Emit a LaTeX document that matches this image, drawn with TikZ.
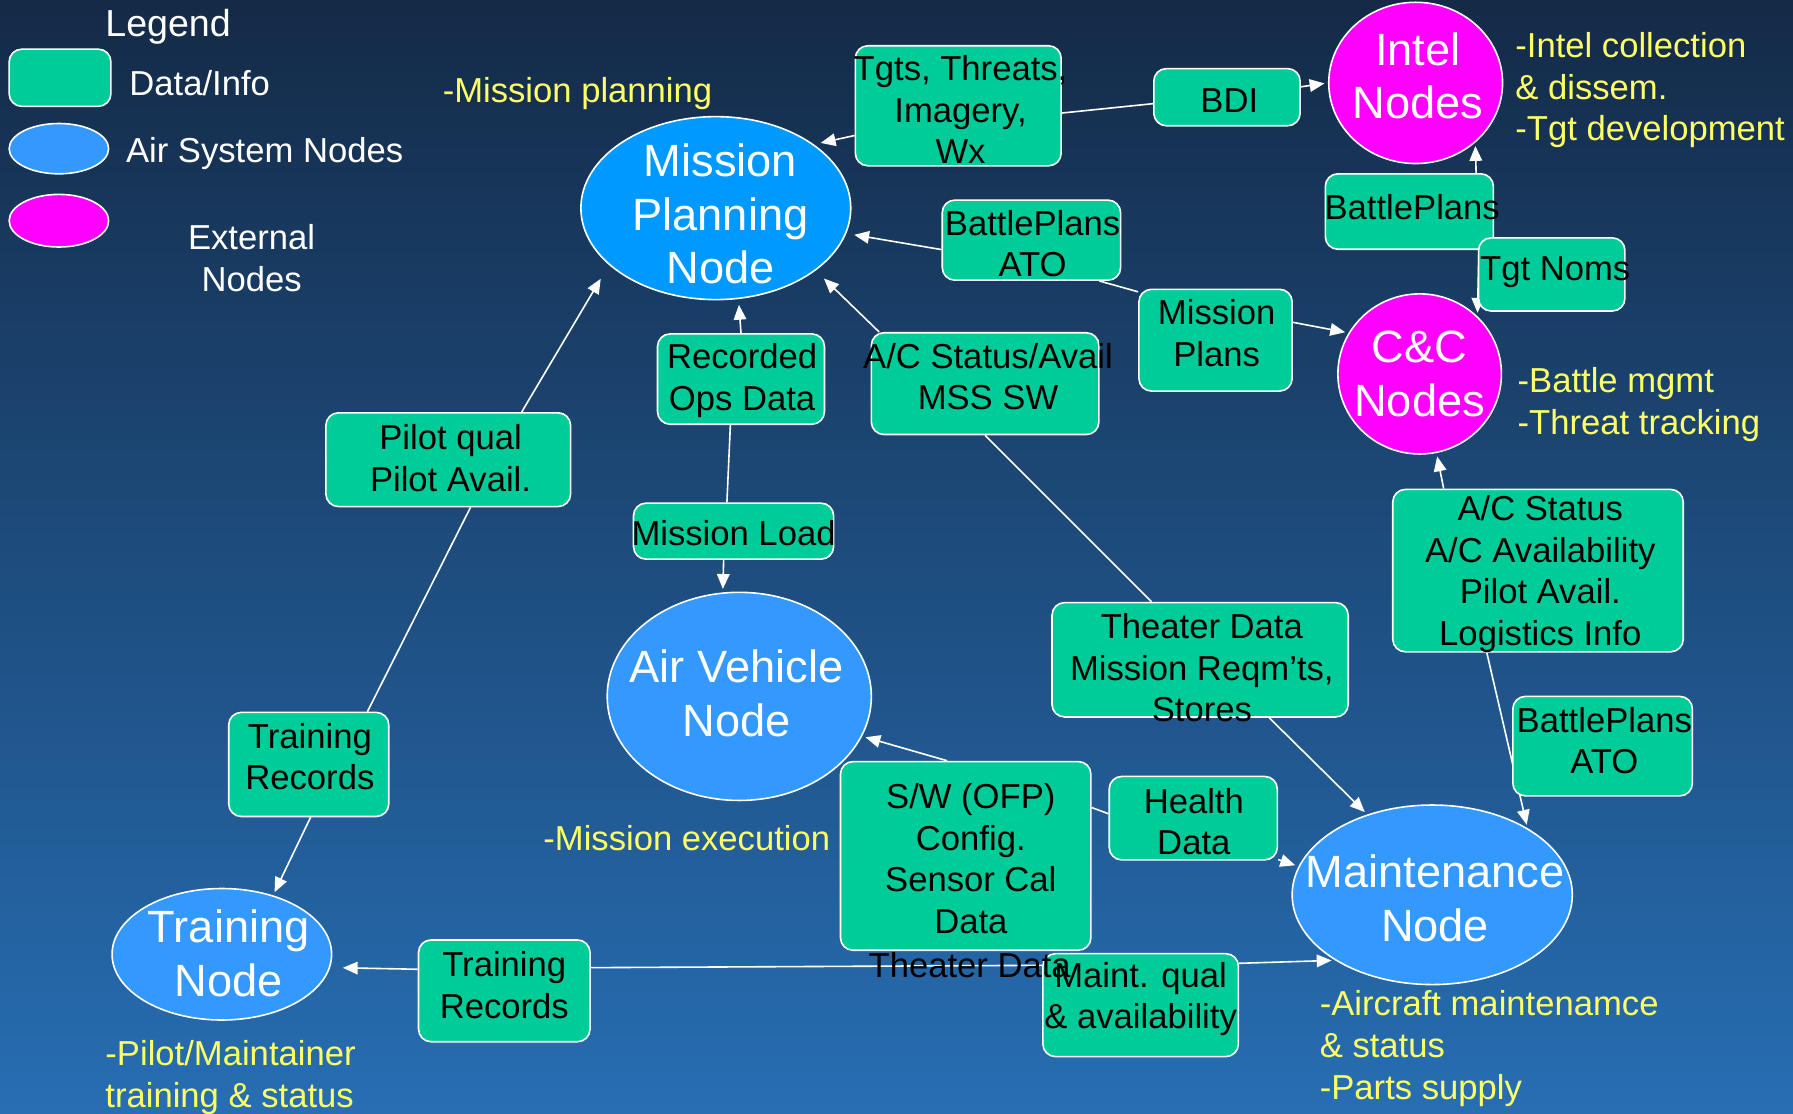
\documentclass[tikz,border=0pt]{standalone}
\usepackage{fontspec}
\setmainfont{Liberation Sans}
\usetikzlibrary{shapes.geometric,arrows.meta}

\definecolor{datagreen}{HTML}{00CC99}
\definecolor{sysblue}{HTML}{3399FF}
\definecolor{mpblue}{HTML}{0099FF}
\definecolor{extmag}{HTML}{FF00FF}
\definecolor{noteyellow}{HTML}{FFFF66}
\definecolor{bgtop}{HTML}{142A47}
\definecolor{bgmid}{HTML}{1F5A94}
\definecolor{bgbot}{HTML}{276EB3}

\newcommand\boxfont{\fontsize{30.4}{36.5}\selectfont}
\newcommand\bigfont{\fontsize{39.7}{47}\selectfont}
\newcommand\legfont{\fontsize{30.4}{37}\selectfont}

\pgfdeclarelayer{bg}
\pgfdeclarelayer{edges}
\pgfsetlayers{bg,edges,main}

\begin{document}
\begin{tikzpicture}[x=1bp,y=-1bp,
  sz/.style 2 args={minimum width=#1bp, minimum height=#2bp},
  databox/.style={rectangle, draw=white, line width=1.4bp, fill=datagreen,
    rounded corners=11bp, inner sep=0pt},
  boxtxt/.style={text=black, font=\boxfont, align=center, inner sep=0pt},
  sysnode/.style={ellipse, draw=white, line width=1.4bp, fill=sysblue, inner sep=0pt},
  extnode/.style={ellipse, draw=white, line width=1.4bp, fill=extmag, inner sep=0pt},
  bigtxt/.style={text=white, font=\bigfont, align=center, inner sep=0pt},
  note/.style={text=noteyellow, font=\boxfont, align=left, anchor=west, inner sep=0pt},
  legtxt/.style={text=white, font=\legfont, inner sep=0pt},
  link/.style={draw=white, line width=1.4bp},
  flow/.style={link, shorten >=3bp, -{Triangle[length=13bp,width=11bp]}},
]

% backdrop
\begin{pgfonlayer}{bg}
  \shade[top color=bgtop, middle color=bgmid, bottom color=bgbot] (0,0) rectangle (1568,974);
\end{pgfonlayer}
\useasboundingbox (0,0) rectangle (1568,974);

% legend
\node[legtxt, font=\fontsize{33}{40}\selectfont] (leghead) at (147,23) {Legend};
\node[databox, sz={89}{50}] (lgbox) at (52.5,68) {};
\node[legtxt, anchor=west] (lgboxtxt) at (113,73) {Data/Info};
\node[sysnode, sz={87}{44}] (lgsys) at (51.5,130) {};
\node[legtxt, anchor=west] (lgsystxt) at (110,134) {Air System Nodes};
\node[extnode, sz={87}{46}] (lgext) at (51.5,193) {};
\node[legtxt, align=center] (lgexttxt) at (220,226) {External\\Nodes};

% system and external nodes
\node[sysnode, fill=mpblue, sz={236}{160},
  label={[bigtxt,xshift=4bp,yshift=-5bp]center:{Mission\\Planning\\Node}}] (mp) at (626,182) {};
\node[extnode, sz={152}{141},
  label={[bigtxt,xshift=2bp,yshift=6bp]center:{Intel\\Nodes}}] (intel) at (1238,72.5) {};
\node[extnode, sz={143}{140},
  label={[bigtxt]center:{C\&C\\Nodes}}] (cc) at (1241.5,327) {};
\node[sysnode, sz={231}{182},
  label={[bigtxt,xshift=-2.5bp,yshift=2.5bp]center:{Air Vehicle\\Node}}] (av) at (646.5,609) {};
\node[sysnode, sz={245}{157},
  label={[bigtxt,xshift=2.5bp,yshift=-3bp]center:{Maintenance\\Node}}] (maint) at (1252.5,782.5) {};
\node[sysnode, sz={192}{115},
  label={[bigtxt,xshift=6bp,yshift=1bp]center:{Training\\Node}}] (train) at (194,834.5) {};

% data / info boxes
\node[databox, sz={180}{105},
  label={[boxtxt,xshift=2bp,yshift=-3.5bp]center:{Tgts, Threats,\\Imagery,\\Wx}}] (tgts) at (838,92.5) {};
\node[databox, sz={128}{50},
  label={[boxtxt,xshift=2bp,yshift=-3bp]center:{BDI}}] (bdi) at (1073,85) {};
\node[databox, sz={147}{66},
  label={[boxtxt,xshift=2.5bp,yshift=4bp]center:{BattlePlans}}] (bpi) at (1232.5,185) {};
\node[databox, sz={128}{64},
  label={[boxtxt,xshift=3bp,yshift=2bp]center:{Tgt Noms}}] (tgtnoms) at (1357,240) {};
\node[databox, sz={156}{70},
  label={[boxtxt,xshift=1bp,yshift=-3bp]center:{BattlePlans\\ATO}}] (bpato1) at (902,210) {};
\node[databox, sz={134}{89},
  label={[boxtxt,xshift=1bp,yshift=6bp]center:{Mission\\Plans}}] (mplans) at (1063,297.5) {};
\node[databox, sz={146}{79},
  label={[boxtxt,xshift=1bp,yshift=-1.5bp]center:{Recorded\\Ops Data}}] (recops) at (648,331.5) {};
\node[databox, sz={199}{89},
  label={[boxtxt,xshift=2.5bp,yshift=6bp]center:{A/C Status/Avail\\MSS SW}}] (acsw) at (861.5,335.5) {};
\node[databox, sz={214}{82},
  label={[boxtxt,xshift=2bp,yshift=1.5bp]center:{Pilot qual\\Pilot Avail.}}] (pilot) at (392,402) {};
\node[databox, sz={175}{49},
  label={[boxtxt,yshift=-1.5bp]center:{Mission Load}}] (mload) at (641.5,464.5) {};
\node[databox, sz={259}{100},
  label={[boxtxt,xshift=1.5bp,yshift=-7bp]center:{Theater Data\\Mission Reqm’ts,\\Stores}}] (theater) at (1049.5,577) {};
\node[databox, sz={254}{142},
  label={[boxtxt,xshift=2bp,yshift=-3bp]center:{A/C Status\\A/C Availability\\Pilot Avail.\\Logistics Info}}] (acstat) at (1345,499) {};
\node[databox, sz={157}{87},
  label={[boxtxt,xshift=1.5bp,yshift=5bp]center:{BattlePlans\\ATO}}] (bpato2) at (1401.5,652.5) {};
\node[databox, sz={140}{91},
  label={[boxtxt,xshift=1bp,yshift=7bp]center:{Training\\Records}}] (trec1) at (270,668.5) {};
\node[databox, sz={219}{165},
  label={[boxtxt,xshift=4.5bp,yshift=-2.5bp]center:{S/W (OFP)\\Config.\\Sensor Cal\\Data}}] (sw) at (844.5,748.5) {};
\node[databox, sz={147}{73},
  label={[boxtxt,xshift=0.5bp,yshift=-3bp]center:{Health\\Data}}] (health) at (1043.5,715.5) {};
\node[databox, sz={150}{89},
  label={[boxtxt,yshift=5bp]center:{Training\\Records}}] (trec2) at (441,866.5) {};
\node[databox, sz={171}{90},
  label={[boxtxt,yshift=5.5bp]center:{Maint. qual\\\& availability}}] (mqual) at (997.5,879) {};
\node[boxtxt] (thdata) at (848,844) {Theater Data};

% role notes
\node[note] (mpnote) at (387,82) {-Mission planning};
\node[note] (intelnote) at (1325,79) {-Intel collection\\\& dissem.\\-Tgt development};
\node[note] (ccnote) at (1327,354) {-Battle mgmt\\-Threat tracking};
\node[note] (avnote) at (475,733) {-Mission execution};
\node[note] (trnote) at (92,942.5) {-Pilot/Maintainer\\training \& status};
\node[note] (mtnote) at (1154,917) {-Aircraft maintenamce\\\& status\\-Parts supply};

% information flows
\begin{pgfonlayer}{edges}
  \draw[flow, shorten >=6bp] (tgts.196) -- (mp.33);
  \draw[link] (bdi.185) -- (tgts.-4);
  \draw[flow] (bdi.8) -- (intel.west);
  \draw[flow, shorten >=7bp] (bpato1.186) -- (mp.-11);
  \draw[link] (bpato1.-31) -- (mplans.148);
  \draw[flow] (mplans.13) -- (cc.150);
  \draw[flow, shorten >=10bp] (acsw.154) -- (mp.-32);
  \draw[link] (acsw.south) -- (theater.130);
  \draw[flow] (theater.-40) -- (maint.129);
  \draw[flow, shorten >=5bp] (recops.north) -- (mp.-76);
  \draw[link] (recops.-103) -- (mload.103);
  \draw[flow] (mload.-109) -- (av.99);
  \draw[flow, shorten >=14bp] (pilot.33) -- (mp.208);
  \draw[link] (pilot.-65) -- (trec1.42);
  \draw[flow] (trec1.-88) -- (train.49);
  \draw[flow] (sw.101) -- (av.-18);
  \draw[link] (sw.21) -- (health.177);
  \draw[flow] (health.-26) -- (maint.168);
  \draw[flow, shorten >=11bp] (trec2.166) -- (train.-7);
  \draw[link] (trec2.15) -- (mqual.158);
  \draw[flow] (mqual.23) -- (maint.214);
  \draw[flow] (acstat.139) -- (cc.-78);
  \draw[flow] (acstat.-122) -- (maint.35);
  \draw[flow] (bpi.30) -- (intel.-45);
  \draw[flow] (bpi.-29) -- (cc.45);
\end{pgfonlayer}

\end{tikzpicture}
\end{document}
